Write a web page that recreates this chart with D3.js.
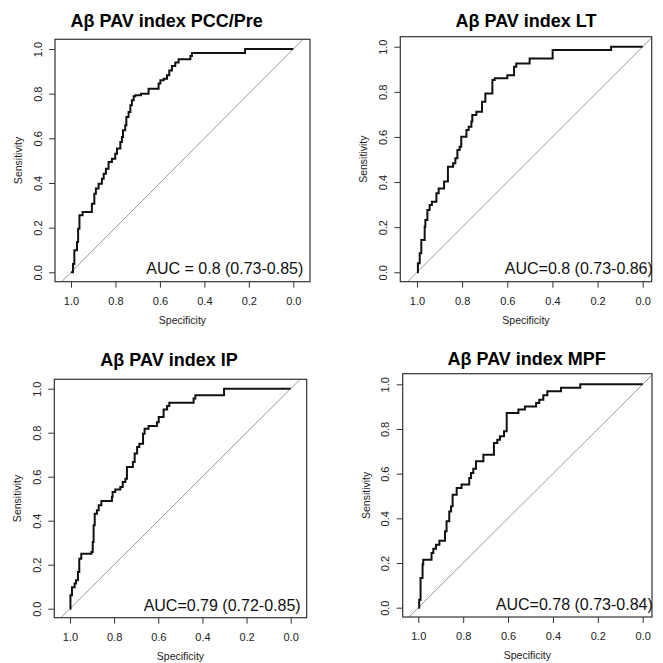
<!DOCTYPE html>
<html>
<head>
<meta charset="utf-8">
<script src="https://cdn.jsdelivr.net/npm/d3@7"></script>
<style>
  html, body { margin: 0; padding: 0; background: #fff; }
  svg { display: block; font-family: "Liberation Sans", Arial, Helvetica, sans-serif; }
</style>
</head>
<body>
<svg id="chart" width="663" height="663"></svg>
<script>
// ---------------- data ----------------
const titles = ["Aβ PAV index PCC/Pre", "Aβ PAV index LT", "Aβ PAV index IP", "Aβ PAV index MPF"];
const aucLabels = ["AUC = 0.8 (0.73-0.85)", "AUC=0.8 (0.73-0.86)", "AUC=0.79 (0.72-0.85)", "AUC=0.78 (0.73-0.84)"];
const tickValues = [1.0, 0.8, 0.6, 0.4, 0.2, 0.0];
const tickLabels = ["1.0", "0.8", "0.6", "0.4", "0.2", "0.0"];
const xLabel = "Specificity";
const yLabel = "Sensitivity";

// PCC/Pre
const spec1 = [1.0, 0.991, 0.985, 0.973, 0.968, 0.962, 0.948, 0.906, 0.895, 0.888, 0.876, 0.861, 0.853, 0.843, 0.831, 0.816, 0.801, 0.793, 0.778, 0.771, 0.766, 0.756, 0.751, 0.741, 0.733, 0.726, 0.718, 0.711, 0.685, 0.651, 0.606, 0.598, 0.583, 0.568, 0.558, 0.546, 0.531, 0.516, 0.463, 0.456, 0.217, 0.0];
const sens1 = [0.0, 0.037, 0.099, 0.136, 0.195, 0.255, 0.270, 0.307, 0.352, 0.375, 0.397, 0.419, 0.441, 0.464, 0.494, 0.509, 0.531, 0.554, 0.584, 0.606, 0.636, 0.658, 0.696, 0.718, 0.748, 0.770, 0.788, 0.793, 0.800, 0.822, 0.845, 0.860, 0.867, 0.882, 0.904, 0.924, 0.939, 0.954, 0.969, 0.982, 1.0, 1.0];

// LT
const spec2 = [1.0, 0.996, 0.988, 0.981, 0.966, 0.963, 0.954, 0.944, 0.934, 0.914, 0.904, 0.880, 0.863, 0.840, 0.830, 0.821, 0.811, 0.804, 0.781, 0.771, 0.759, 0.755, 0.737, 0.712, 0.697, 0.666, 0.656, 0.600, 0.570, 0.560, 0.501, 0.399, 0.140, 0.0];
const sens2 = [0.0, 0.040, 0.084, 0.143, 0.202, 0.232, 0.276, 0.298, 0.313, 0.350, 0.372, 0.402, 0.468, 0.483, 0.505, 0.542, 0.557, 0.601, 0.631, 0.645, 0.668, 0.697, 0.712, 0.756, 0.793, 0.852, 0.860, 0.874, 0.911, 0.926, 0.948, 0.985, 1.0, 1.0];

// IP
const spec3 = [1.0, 0.998, 0.991, 0.979, 0.973, 0.964, 0.958, 0.949, 0.903, 0.897, 0.893, 0.888, 0.878, 0.870, 0.858, 0.810, 0.807, 0.795, 0.772, 0.761, 0.749, 0.742, 0.715, 0.707, 0.696, 0.686, 0.669, 0.662, 0.644, 0.606, 0.598, 0.576, 0.560, 0.550, 0.440, 0.432, 0.302, 0.0];
const sens3 = [0.0, 0.061, 0.098, 0.114, 0.129, 0.167, 0.227, 0.250, 0.258, 0.303, 0.379, 0.432, 0.447, 0.470, 0.489, 0.508, 0.530, 0.542, 0.553, 0.576, 0.591, 0.644, 0.667, 0.705, 0.735, 0.750, 0.795, 0.818, 0.830, 0.848, 0.871, 0.906, 0.921, 0.936, 0.955, 0.970, 1.0, 1.0];

// MPF
const spec4 = [1.0, 0.996, 0.990, 0.981, 0.978, 0.941, 0.933, 0.921, 0.906, 0.881, 0.874, 0.862, 0.854, 0.847, 0.829, 0.807, 0.773, 0.765, 0.755, 0.743, 0.710, 0.663, 0.648, 0.636, 0.618, 0.606, 0.554, 0.525, 0.475, 0.461, 0.443, 0.425, 0.364, 0.278, 0.0];
const sens4 = [0.0, 0.036, 0.133, 0.193, 0.215, 0.245, 0.264, 0.282, 0.300, 0.342, 0.387, 0.431, 0.454, 0.506, 0.536, 0.552, 0.581, 0.603, 0.622, 0.655, 0.685, 0.737, 0.752, 0.767, 0.790, 0.872, 0.887, 0.901, 0.916, 0.931, 0.951, 0.969, 0.985, 1.0, 1.0];

const specs = [spec1, spec2, spec3, spec4];
const senss = [sens1, sens2, sens3, sens4];

// ---------------- layout (pixels) ----------------
const layout = [
  { box: [55, 310, 39.3, 281.7],    xr: [71, 293.3],    yr: [272.3, 49],    tx: 166.7, ty: 27 },
  { box: [400.3, 651.7, 36.7, 281.7], xr: [417, 642.7], yr: [272.3, 46.7],  tx: 526,   ty: 27 },
  { box: [54.3, 306.7, 379.3, 617.7], xr: [70, 290.7],  yr: [608.7, 388.7], tx: 169,   ty: 366 },
  { box: [402.7, 652, 373.7, 617],  xr: [418.3, 642.7], yr: [607.7, 384.3], tx: 526.7, ty: 364.5 }
];

const svg = d3.select("#chart");

layout.forEach((L, i) => {
  const [bl, br, bt, bb] = L.box;
  const x = d3.scaleLinear().domain([1, 0]).range(L.xr);
  const y = d3.scaleLinear().domain([0, 1]).range(L.yr);
  const g = svg.append("g");

  // clip
  const clipId = "clip" + i;
  svg.append("clipPath").attr("id", clipId)
    .append("rect").attr("x", bl).attr("y", bt).attr("width", br - bl).attr("height", bb - bt);

  // diagonal reference line
  g.append("line")
    .attr("clip-path", `url(#${clipId})`)
    .attr("x1", x(1.3)).attr("y1", y(-0.3))
    .attr("x2", x(-0.3)).attr("y2", y(1.3))
    .attr("stroke", "#9a9a9a").attr("stroke-width", 1);

  // ROC curve
  const pts = specs[i].map((s, k) => [s, senss[i][k]]);
  const line = d3.line().x(d => x(d[0])).y(d => y(d[1])).curve(d3.curveStepAfter);
  g.append("path").attr("d", line(pts))
    .attr("fill", "none").attr("stroke", "#111").attr("stroke-width", 2)
    .attr("stroke-linejoin", "miter");

  // box
  g.append("rect").attr("x", bl).attr("y", bt).attr("width", br - bl).attr("height", bb - bt)
    .attr("fill", "none").attr("stroke", "#333").attr("stroke-width", 1.2);

  // x axis
  const xAxis = d3.axisBottom(x).tickValues(tickValues).tickFormat((d, k) => tickLabels[k]).tickSize(6).tickSizeOuter(0);
  const gx = g.append("g").attr("transform", `translate(0,${bb})`).call(xAxis);
  gx.select(".domain").remove();
  gx.selectAll(".tick line").attr("stroke", "#333");
  gx.selectAll(".tick text").attr("font-size", 11).attr("fill", "#222").attr("y", 0).attr("dy", 0)
    .attr("transform", "translate(0,23)");

  // y axis
  const yAxis = d3.axisLeft(y).tickValues(tickValues).tickFormat((d, k) => tickLabels[k]).tickSize(6).tickSizeOuter(0);
  const gy = g.append("g").attr("transform", `translate(${bl},0)`).call(yAxis);
  gy.select(".domain").remove();
  gy.selectAll(".tick line").attr("stroke", "#333");
  gy.selectAll(".tick text").attr("font-size", 11).attr("fill", "#222")
    .attr("x", 0).attr("dy", 0).attr("text-anchor", "middle")
    .attr("transform", "translate(-13.5,0) rotate(-90)");

  // axis titles
  g.append("text").attr("x", (bl + br) / 2).attr("y", bb + 42)
    .attr("text-anchor", "middle").attr("font-size", 10.5).attr("fill", "#222").text(xLabel);
  g.append("text").attr("transform", `translate(${bl - 33},${(bt + bb) / 2}) rotate(-90)`)
    .attr("text-anchor", "middle").attr("font-size", 10.5).attr("fill", "#222").text(yLabel);

  // title
  g.append("text").attr("x", L.tx).attr("y", L.ty)
    .attr("text-anchor", "middle").attr("font-size", 18).attr("font-weight", "bold").attr("fill", "#000")
    .text(titles[i]);

  // AUC label
  g.append("text").attr("x", x(-0.045)).attr("y", y(0) + 2)
    .attr("text-anchor", "end").attr("font-size", 16).attr("fill", "#111").text(aucLabels[i]);
});
</script>
</body>
</html>
